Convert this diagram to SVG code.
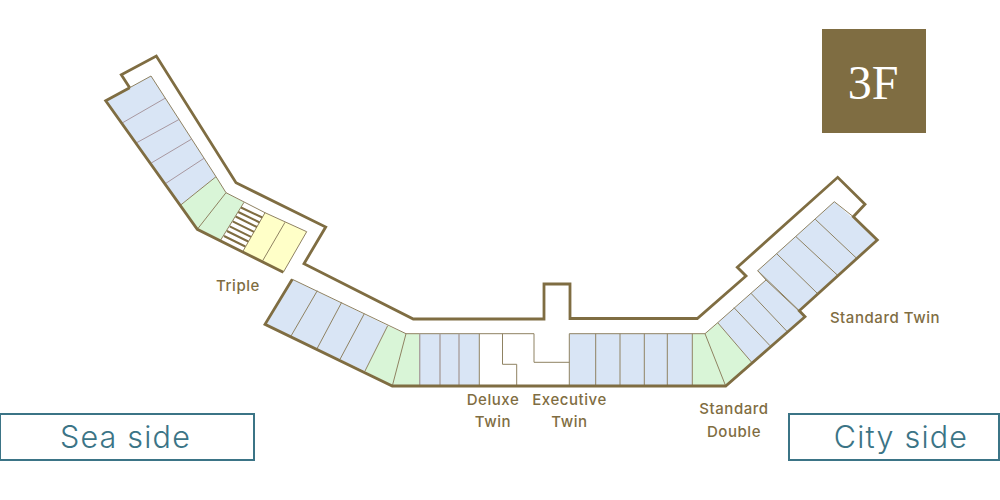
<svg xmlns="http://www.w3.org/2000/svg" width="1000" height="500" viewBox="0 0 1000 500">
<style>
.b{fill:#d9e5f5}.g{fill:#d9f5d7}.y{fill:#ffffc8}
.t{fill:none;stroke:#8f8262;stroke-width:1}
.s{fill:none;stroke:#7f6d42;stroke-width:2}
.w{fill:none;stroke:#7f6d42;stroke-width:2.8;stroke-linejoin:miter}
.l{font-family:Inter,"Liberation Sans",sans-serif;font-size:15px;font-weight:500;fill:#7f6d42;text-anchor:middle;letter-spacing:.55px}
.k{font-family:Inter,"Liberation Sans",sans-serif;font-size:30.5px;font-weight:300;fill:#3b7486;text-anchor:middle;letter-spacing:1.2px}
.box{fill:#fff;stroke:#3b7486;stroke-width:2}
</style>
<g id="rooms-fill">
<polygon class="b" points="151,76 216,176.7 180.7,205 105.7,100.7 129.7,87.7"/>
<polygon class="g" points="216,176.7 226,192.7 244,202.3 220.7,240 197.3,229.3 180.7,205"/>
<polygon class="y" points="265,212.7 306.7,231.7 283.3,272.3 242.7,251.7"/>
<polygon class="b" points="292.3,279.3 387.7,325.7 365,371 265,324.3"/>
<polygon class="g" points="387.7,325.7 406,333.7 419.7,333.7 419.7,386 392.3,386 365,371"/>
<rect class="b" x="419.7" y="333.7" width="59.6" height="52.3"/>
<rect class="b" x="569.3" y="333.7" width="123" height="52.3"/>
<polygon class="g" points="692.3,333.7 705,333.7 717.7,322.7 751.7,362.3 725.7,386 692.3,386"/>
<polygon class="b" points="717.7,322.7 766,280 757.7,270.7 834.3,201.7 877.3,240 799.3,310.7 805,316.7 751.7,362.3"/>
</g>
<g id="room-lines">
<path class="t" d="M129.7,87.700L151,76L216,176.700L226,192.700L265,212.700L306.700,231.700L283.300,272.300M226,192.700L197.300,229.300M244,202.300L220.700,240M265,212.700L242.700,251.700M285,222.300L262.700,260.700M216,176.700L180.700,205"/>
<path class="t" d="M165,98.300L122.700,122.700M179.300,119.300L136.700,142.700M191.700,139L151.300,163M204,158.300L165.300,183.700" style="stroke:#a898a0"/>
<path class="t" d="M292.300,279.300L406,333.700L534,333.700L534,362.300L569.300,362.300M317.300,290.700L291,336M341.700,302.300L317,348.700M364.300,313.700L340,359.300M387.700,325.700L365,371M406,333.700L392.300,386M479.300,333.700V386M502.500,333.700V364.300H516.700V386M569.300,333.700V386M595.700,333.700V386M620,333.700V386M644.300,333.700V386M667.300,333.700V386M692.300,333.700V386M569.300,333.700H705L717.700,322.700L766,280L757.700,270.700L834.300,201.700L853.300,216.700M705,333.700L725.700,386M717.700,322.700L751.700,362.300M734,307.700L770,345.700M751,293.300L787.300,331.700M766,280L805,316.700M757.700,270.700L799.300,310.700M776.700,253.700L817.300,293.300M796,236.700L837.300,275M815.300,219.300L856,257.700"/>
<path class="t" d="M419.700,333.700V386M440,333.700V386M459,333.700V386" style="stroke:#aaa2a0;stroke-width:1.4"/>
</g>
<g id="stairs">
<path class="s" d="M241,207.500L262.300,217.500M238.300,212L259.600,222.500M235.600,216.500L256.900,227M232.700,221.300L254,231.800M229.700,226.300L251,236.800M226.900,231L248.200,241.500M224,236L245.300,246.500"/>
</g>
<g id="walls">
<path class="w" d="M129.700,87.700L121.300,74.700L156.300,56L236,182.700L325.700,227L304,263.700L413.300,319H544V284H570V318.500H697.300L746,276L737.300,267.300L837.700,177.300L865,204.300L853.300,216.700L877.300,240L799.300,310.700L805,316.700L725.700,386H392.300L265,324.300L292.300,279.300"/>
<path class="w" d="M129.700,87.700L105.700,100.700L197.300,229.300L283.300,272.300"/>
</g>
<g id="floor-badge">
<rect x="822" y="29" width="104" height="104" fill="#7f6d42"/>
<text x="873" y="99" font-family="Liberation Serif, serif" font-size="48" fill="#fff" text-anchor="middle">3F</text>
</g>
<g id="room-labels">
<text class="l" x="238" y="291">Triple</text>
<text class="l" x="493" y="405">Deluxe</text>
<text class="l" x="493" y="427">Twin</text>
<text class="l" x="569.500" y="405">Executive</text>
<text class="l" x="569.500" y="427">Twin</text>
<text class="l" x="734" y="414">Standard</text>
<text class="l" x="734" y="437">Double</text>
<text class="l" x="885" y="323">Standard Twin</text>
</g>
<g id="sea-side">
<rect class="box" x="0" y="414" width="254" height="46"/>
<text class="k" x="125.500" y="448">Sea side</text>
</g>
<g id="city-side">
<rect class="box" x="789" y="414" width="210" height="46"/>
<text class="k" x="901" y="448">City side</text>
</g>
</svg>
